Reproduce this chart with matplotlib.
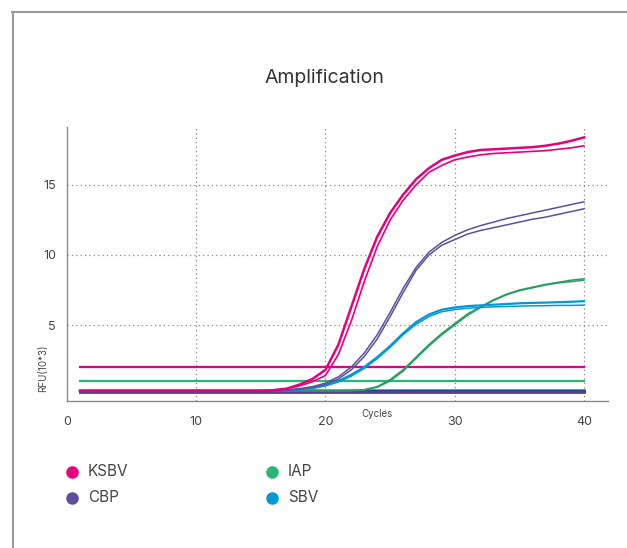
import matplotlib.pyplot as plt
from matplotlib.lines import Line2D
import numpy as np

plt.rcParams['font.family'] = ['Inter', 'DejaVu Sans']

cycles = np.arange(1, 41)
base = [0.3] * 15

ksbv_a = base + [0.35, 0.45, 0.75, 1.15, 1.8, 3.6, 6.3, 9.0, 11.3, 13.0, 14.3, 15.4, 16.2, 16.8, 17.1,
                 17.35, 17.5, 17.55, 17.6, 17.65, 17.7, 17.8, 17.95, 18.15, 18.4]
ksbv_b = base + [0.33, 0.45, 0.65, 0.95, 1.4, 2.9, 5.3, 8.1, 10.6, 12.5, 13.9, 15.0, 15.9, 16.4, 16.8,
                 17.0, 17.15, 17.25, 17.3, 17.35, 17.4, 17.45, 17.55, 17.65, 17.8]
cbp_a = base + [0.3, 0.35, 0.45, 0.6, 0.85, 1.3, 2.0, 3.0, 4.3, 5.9, 7.6, 9.1, 10.2, 10.9, 11.4,
                11.8, 12.1, 12.35, 12.6, 12.8, 13.0, 13.2, 13.4, 13.6, 13.8]
cbp_b = base + [0.3, 0.33, 0.42, 0.55, 0.75, 1.15, 1.8, 2.75, 4.0, 5.6, 7.3, 8.9, 10.0, 10.7, 11.1,
                11.5, 11.75, 11.95, 12.15, 12.35, 12.55, 12.7, 12.9, 13.1, 13.3]
sbv_a = base + [0.3, 0.35, 0.4, 0.5, 0.7, 1.0, 1.45, 2.0, 2.7, 3.5, 4.4, 5.2, 5.75, 6.1, 6.25,
                6.35, 6.4, 6.45, 6.5, 6.55, 6.58, 6.6, 6.63, 6.66, 6.7]
sbv_b = base + [0.3, 0.33, 0.38, 0.47, 0.65, 0.93, 1.35, 1.9, 2.6, 3.4, 4.3, 5.05, 5.6, 5.95, 6.1,
                6.2, 6.25, 6.3, 6.32, 6.35, 6.37, 6.38, 6.4, 6.4, 6.42]
iap_a = base + [0.3, 0.3, 0.3, 0.3, 0.3, 0.3, 0.32, 0.38, 0.6, 1.1, 1.8, 2.7, 3.6, 4.4, 5.1,
                5.8, 6.3, 6.8, 7.2, 7.5, 7.7, 7.9, 8.05, 8.2, 8.3]
iap_b = base + [0.3, 0.3, 0.3, 0.3, 0.3, 0.3, 0.31, 0.36, 0.55, 1.0, 1.7, 2.6, 3.5, 4.3, 5.0,
                5.7, 6.25, 6.75, 7.15, 7.45, 7.65, 7.85, 8.0, 8.1, 8.2]

thresholds = {'KSBV': 2.0, 'IAP': 1.0}
baselines = [('#1aa7e0', 0.38), ('#1d3f8a', 0.3), ('#5b3f8f', 0.22)]

names = ['KSBV', 'CBP', 'IAP', 'SBV']
colors = {'KSBV': '#e6007e', 'CBP': '#5e4f9e', 'IAP': '#2bb673', 'SBV': '#0099d8'}

fig = plt.figure(figsize=(6.27, 5.48), dpi=100)
ax = fig.add_axes([0.1069, 0.2682, 0.8628, 0.5000])

ax.set_xlim(0, 41.86)
ax.set_ylim(-0.43, 19.14)
ax.set_xticks([0, 10, 20, 30, 40])
ax.set_yticks([5, 10, 15])
ax.tick_params(length=0, labelsize=9, colors='#444444')
ax.tick_params(axis='x', pad=11)
ax.tick_params(axis='y', pad=8)

for s in ['top', 'right']:
    ax.spines[s].set_visible(False)
for s in ['left', 'bottom']:
    ax.spines[s].set_color('#8a8a8a')
    ax.spines[s].set_linewidth(1.0)

for gx in [10, 20, 30, 40]:
    ax.axvline(gx, color='#888888', ls=(0, (1, 2.5)), lw=0.9, zorder=0)
for gy in [5, 10, 15]:
    ax.axhline(gy, color='#888888', ls=(0, (1, 2.5)), lw=0.9, zorder=0)

for c, v in baselines:
    ax.plot(cycles, [v] * len(cycles), color=c, lw=2.0)

for k, v in thresholds.items():
    ax.plot(cycles, [v] * len(cycles), color=colors[k], lw=1.6)

ax.plot(cycles, iap_a, color='#2a9d62', lw=1.1)
ax.plot(cycles, iap_b, color='#2a9d62', lw=1.1)
ax.plot(cycles, sbv_a, color=colors['SBV'], lw=1.6)
ax.plot(cycles, sbv_b, color=colors['SBV'], lw=1.1)
ax.plot(cycles, cbp_a, color=colors['CBP'], lw=1.1)
ax.plot(cycles, cbp_b, color=colors['CBP'], lw=1.1)
ax.plot(cycles, ksbv_a, color=colors['KSBV'], lw=1.8)
ax.plot(cycles, ksbv_b, color=colors['KSBV'], lw=1.2)

ax.text(0.573, -0.03, 'Cycles', transform=ax.transAxes, fontsize=7, color='#444444',
        ha='center', va='top')
ax.text(-0.045, 0.12, 'RFU(10*3)', transform=ax.transAxes, fontsize=7, color='#444444',
        rotation=90, ha='center', va='center')

fig.text(0.518, 0.858, 'Amplification', fontsize=14, color='#333333', ha='center', va='center')

# figure frame (left and top only)
fig.add_artist(Line2D([0.020, 0.020], [0, 0.979], transform=fig.transFigure, color='#999999', lw=1.5))
fig.add_artist(Line2D([0.019, 1.0], [0.979, 0.979], transform=fig.transFigure, color='#999999', lw=1.5))

# legend
leg_pos = {'KSBV': (72, 472), 'CBP': (72, 498), 'IAP': (272, 472), 'SBV': (272, 498)}
for n in names:
    px, py = leg_pos[n]
    fx, fy = px / 627, 1 - py / 548
    fig.add_artist(Line2D([fx], [fy], transform=fig.transFigure, marker='o', ms=8,
                          color=colors[n], ls='none'))
    fig.text(fx + 16 / 627, fy, n, fontsize=11, color='#444444', ha='left', va='center')

fig.savefig('out.png', dpi=100)
